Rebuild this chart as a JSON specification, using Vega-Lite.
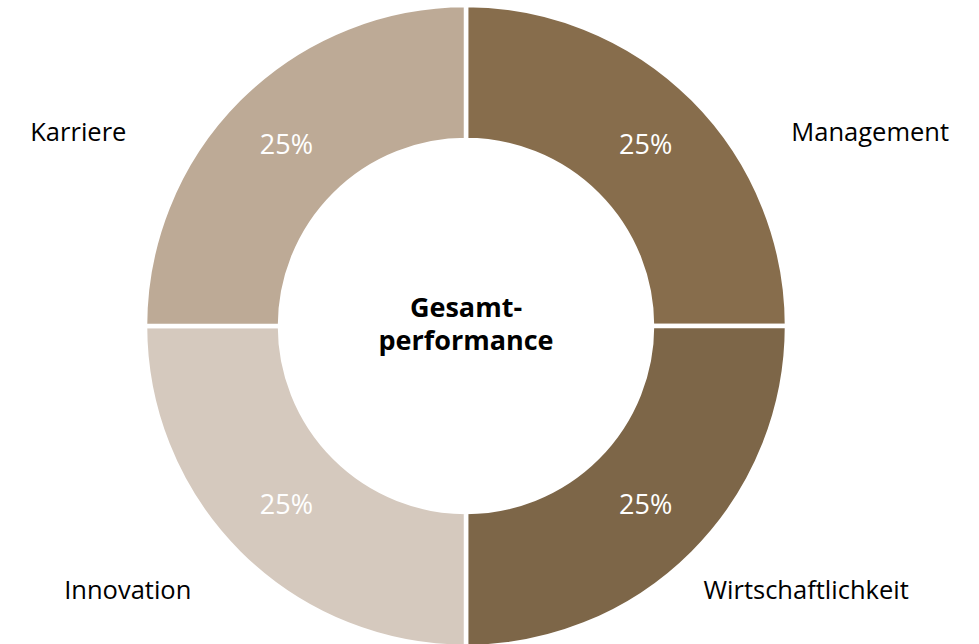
{
  "$schema": "https://vega.github.io/schema/vega-lite/v6.json",
  "width": 932,
  "height": 652,
  "autosize": "none",
  "padding": {"left": 0, "top": 0, "right": 47, "bottom": 0},
  "background": "white",
  "config": {"view": {"stroke": null}, "font": "Open Sans"},
  "resolve": {"scale": {"theta": "independent", "radius": "independent"}},
  "data": {
    "values": [
      {"i": 1, "cat": "Management", "value": 25},
      {"i": 2, "cat": "Wirtschaftlichkeit", "value": 25},
      {"i": 3, "cat": "Innovation", "value": 25},
      {"i": 4, "cat": "Karriere", "value": 25}
    ]
  },
  "layer": [
    {
      "layer": [
        {
          "mark": {"type": "arc", "outerRadius": 321, "innerRadius": 186, "stroke": "white", "strokeWidth": 4.5},
          "encoding": {
            "theta": {"field": "value", "type": "quantitative", "stack": true},
            "order": {"field": "i", "type": "ordinal"},
            "color": {
              "field": "cat", "type": "nominal", "legend": null,
              "scale": {
                "domain": ["Management", "Wirtschaftlichkeit", "Innovation", "Karriere"],
                "range": ["#876D4C", "#7D6648", "#D5C9BE", "#BDAA96"]
              }
            }
          }
        },
        {
          "transform": [{"calculate": "datum.value + '%'", "as": "pct"}],
          "mark": {"type": "text", "radius": 254, "fontSize": 27, "color": "white", "align": "center", "baseline": "middle"},
          "encoding": {
            "theta": {"field": "value", "type": "quantitative", "stack": true},
            "order": {"field": "i", "type": "ordinal"},
            "text": {"field": "pct", "type": "nominal"},
            "detail": {"field": "cat", "type": "nominal"}
          }
        }
      ]
    },
    {
      "mark": {"type": "text", "fontSize": 25.5, "color": "black", "align": "center", "baseline": "middle"},
      "encoding": {
        "theta": {
          "field": "i", "type": "quantitative", "stack": null,
          "scale": {"type": "linear", "zero": false, "domain": [1, 2, 3, 4], "range": [1.125, 2.232, 4.047, 5.174]}
        },
        "radius": {
          "field": "i", "type": "quantitative",
          "scale": {"type": "linear", "zero": false, "domain": [1, 2, 3, 4], "range": [448, 431, 430, 433]}
        },
        "text": {"field": "cat", "type": "nominal"}
      }
    },
    {
      "data": {"values": [{"title": "Gesamt-\nperformance"}]},
      "mark": {"type": "text", "fontSize": 27, "fontWeight": "bold", "color": "black", "align": "center", "baseline": "middle", "lineBreak": "\n", "lineHeight": 33, "dy": -17},
      "encoding": {"text": {"field": "title", "type": "nominal"}}
    }
  ]
}
